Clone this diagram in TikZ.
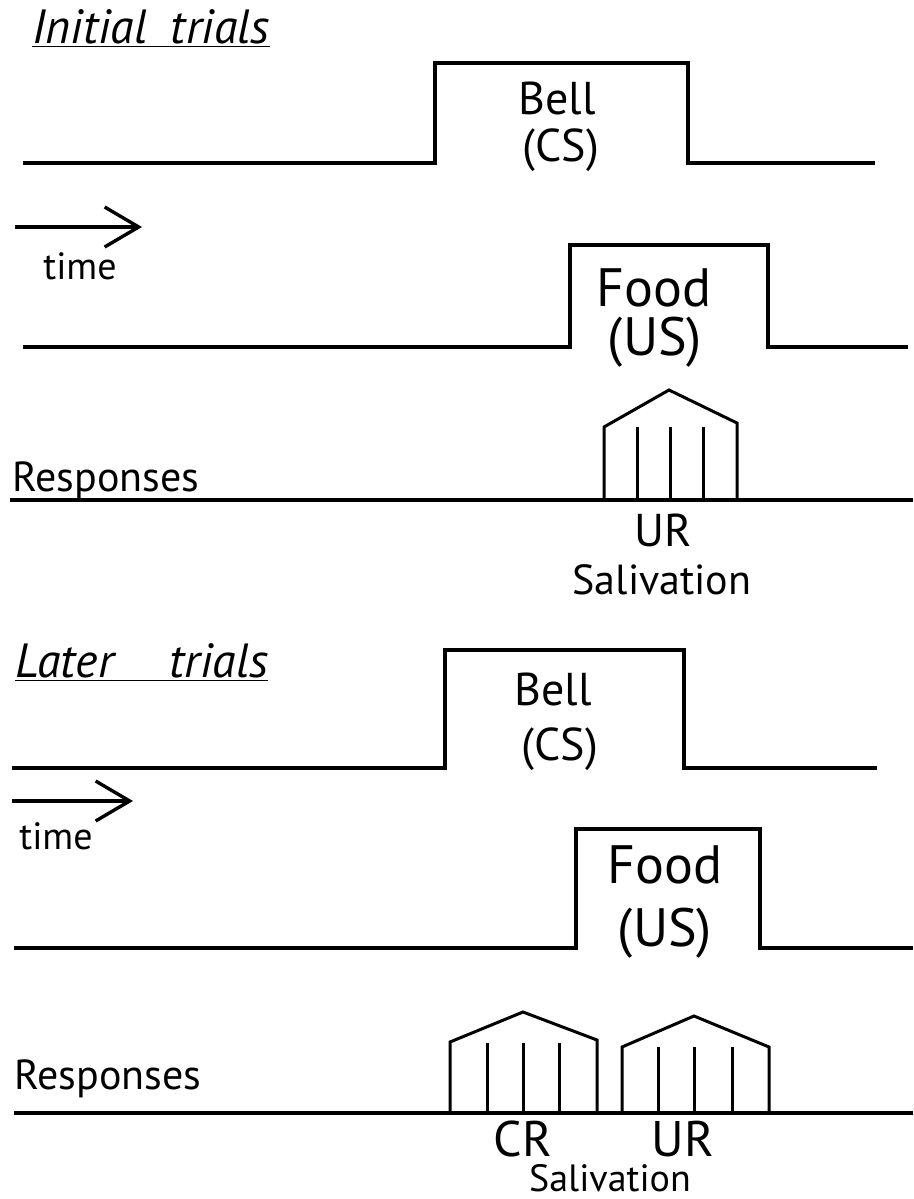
\documentclass[tikz,border=0pt]{standalone}
\usepackage{fontspec}
\setmainfont{PT Sans}
\usepackage{tikz}
\usetikzlibrary{arrows.meta}
\tikzset{
  signal/.style={line width=1.7pt, line join=miter},
  burst/.style={line width=1.5pt, line join=miter},
  timearrow/.style={line width=1.7pt, -{Straight Barb[length=17pt, width=20pt, line width=1.7pt]}},
  lbl/.style={inner sep=0pt, anchor=base, text depth=0pt},
}

\begin{document}
\begin{tikzpicture}[x=0.5pt, y=-0.5pt]
\useasboundingbox (0,0) rectangle (914,1199);
%%% initial trials %%%

      \node[lbl, anchor=base west] (title1) at (32,43) {\fontsize{24}{28}\selectfont\underline{\textit{Initial\enspace trials}}};
      %% bell
      \draw[signal] (23,163) -- (435,163) -- (435,63) -- (688,63) -- (688,163) -- (875,163);
      \node[lbl] (bell1) at (557,114) {\fontsize{23}{27}\selectfont Bell};
      \node[lbl] (cs1) at (561,161) {\fontsize{23}{27}\selectfont (CS)};
      %% time
      \coordinate (t1s) at (15,227);
      \coordinate (t1e) at (142,227);
      \draw[timearrow] (t1s) -- (t1e);
      \node[lbl] (time1) at (80,279) {\fontsize{19}{22}\selectfont time};
      %% food
      \draw[signal] (23,347) -- (570,347) -- (570,245) -- (768,245) -- (768,347) -- (908,347);
      \node[lbl] (food1) at (654,306) {\fontsize{27}{32}\selectfont Food};
      \node[lbl] (us1) at (655,355) {\fontsize{27}{32}\selectfont (US)};
      %% responses
      \draw[signal] (10,500) -- (913,500);
      \node[lbl, anchor=base west] (resp1) at (12,491) {\fontsize{21}{25}\selectfont Responses};
      \draw[burst] (604,500) -- (604,427) -- (669,390) -- (737,423) -- (737,500);
      \foreach \x in {637,670,703} \draw[burst] (\x,427) -- (\x,500);
      \node[lbl] (ur1) at (663,546) {\fontsize{23}{27}\selectfont UR};
      \node[lbl] (sal1) at (662,594) {\fontsize{21}{25}\selectfont Salivation};

%%% later trials %%%

      \node[lbl, anchor=base west] (title2) at (15,677) {\fontsize{24}{28}\selectfont\underline{\textit{Later\enspace\enspace\thinspace trials}}};
      %% bell
      \draw[signal] (12,768) -- (445,768) -- (445,650) -- (684,650) -- (684,768) -- (877,768);
      \node[lbl] (bell2) at (553,705) {\fontsize{23}{27}\selectfont Bell};
      \node[lbl] (cs2) at (560,760) {\fontsize{23}{27}\selectfont (CS)};
      %% time
      \coordinate (t2s) at (12,801);
      \coordinate (t2e) at (133,801);
      \draw[timearrow] (t2s) -- (t2e);
      \node[lbl] (time2) at (56,849) {\fontsize{19}{22}\selectfont time};
      %% food
      \draw[signal] (14,948) -- (576,948) -- (576,829) -- (760,829) -- (760,948) -- (913,948);
      \node[lbl] (food2) at (665,883) {\fontsize{27}{32}\selectfont Food};
      \node[lbl] (us2) at (665,946) {\fontsize{27}{32}\selectfont (US)};
      %% responses
      \draw[signal] (14,1113) -- (913,1113);
      \node[lbl, anchor=base west] (resp2) at (14,1089) {\fontsize{21}{25}\selectfont Responses};
      \draw[burst] (450,1113) -- (450,1042) -- (523,1012) -- (597,1040) -- (597,1113);
      \foreach \x in {487,523,559} \draw[burst] (\x,1043) -- (\x,1113);
      \draw[burst] (622,1113) -- (622,1047) -- (694,1016) -- (769,1047) -- (769,1113);
      \foreach \x in {658,694,732} \draw[burst] (\x,1047) -- (\x,1113);
      \node[lbl] (cr2) at (523,1156) {\fontsize{25}{29}\selectfont CR};
      \node[lbl] (ur2) at (683,1156) {\fontsize{25}{29}\selectfont UR};
      \node[lbl] (sal2) at (610,1191) {\fontsize{19}{23}\selectfont Salivation};

\end{tikzpicture}
\end{document}
